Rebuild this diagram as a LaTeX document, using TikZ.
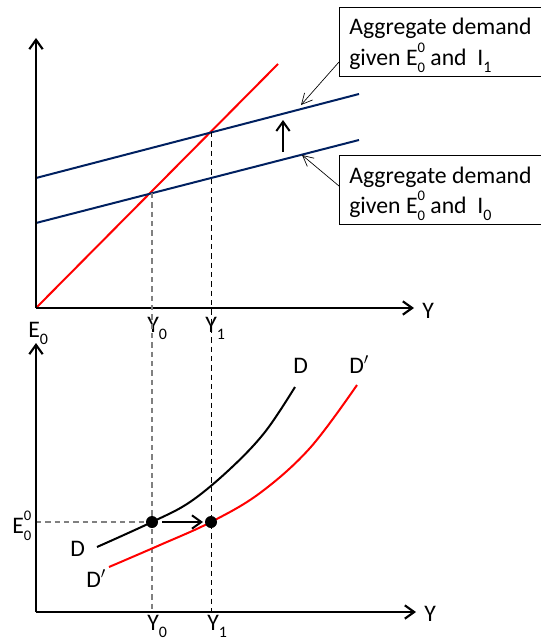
\documentclass[tikz,border=0pt]{standalone}
\usepackage{fontspec}
\setmainfont{Carlito}
\usetikzlibrary{arrows.meta}
\definecolor{navy}{RGB}{0,32,96}
\newcommand{\sbs}[1]{\raisebox{-0.32em}{\fontsize{12}{12}\selectfont #1}}
\newcommand{\Ezz}{E\makebox[0pt][l]{\raisebox{0.52em}{\fontsize{11}{11}\selectfont 0}}\raisebox{-0.3em}{\fontsize{11}{11}\selectfont 0}}
\tikzset{
  axis/.style={line width=1.9pt, -{Straight Barb[length=7pt,width=10pt,line width=1.6pt]}},
  redline/.style={red, line width=1.5pt},
  blueline/.style={navy, line width=1.5pt},
  curveD/.style={black, line width=1.5pt},
  pointer/.style={line width=0.5pt, -{Straight Barb[length=8pt,width=8pt,line width=0.5pt]}},
  bigarrow/.style={line width=1.7pt, -{Straight Barb[length=7pt,width=10pt,line width=1.5pt]}},
  grayd/.style={gray, line width=1pt, dash pattern=on 4pt off 3pt},
  blackd/.style={black, line width=0.7pt, dash pattern=on 4pt off 3pt},
  lbl/.style={inner sep=0pt, anchor=base west},
  callout/.style={draw, line width=0.6pt, anchor=north west, minimum width=157pt, minimum height=51.75pt, inner sep=0pt},
  dot/.style={circle, fill=black, inner sep=0pt, minimum size=9pt}
}
\begin{document}
\begin{tikzpicture}[x=0.75pt, y=-0.75pt, font=\fontsize{17.8}{21}\selectfont]
\useasboundingbox (0,0) rectangle (540,642);
% ---------- upper panel ----------
\coordinate (O1) at (36,308);
\coordinate (T1) at (36,38);
\coordinate (R1) at (414,308);
\coordinate (redEnd) at (278,64);
\coordinate (bA) at (36,178);
\coordinate (bB) at (359,94);
\coordinate (aA) at (36,223);
\coordinate (aB) at (359,140);
\coordinate (i0) at (152,193);
\coordinate (i1) at (211,132);
\draw[redline] (O1) -- (redEnd);
\draw[blueline] (bA) -- (bB);
\draw[blueline] (aA) -- (aB);
\draw[axis] (O1) -- (T1);
\draw[axis] (O1) -- (R1);
\coordinate (upS) at (283,152);
\coordinate (upE) at (283,120);
\draw[bigarrow] (upS) -- (upE);
% callouts
\node[callout] (box1) at (339,7) {};
\node[callout] (box2) at (339,155) {};
\node[lbl] (t1a) at (349,35) {Aggregate demand};
\node[lbl] (t1b) at (349,65) {given \Ezz\ and \ I\sbs{1}};
\node[lbl] (t2a) at (349,183) {Aggregate demand};
\node[lbl] (t2b) at (349,213) {given \Ezz\ and \ I\sbs{0}};
\coordinate (p1s) at (339,62);
\coordinate (p1e) at (301,105);
\coordinate (p2s) at (339,186);
\coordinate (p2e) at (302,155);
\draw[pointer] (p1s) -- (p1e);
\draw[pointer] (p2s) -- (p2e);
% labels upper
\node[lbl] (YY1) at (422,318) {Y};
\node[lbl] (E0) at (28,337) {E\sbs{0}};
\node[lbl] (Y0a) at (147,332) {Y\sbs{0}};
\node[lbl] (Y1a) at (205,332) {Y\sbs{1}};
% ---------- lower panel ----------
\coordinate (O2) at (36,612);
\coordinate (T2) at (36,343);
\coordinate (R2) at (416,612);
\coordinate (b0) at (152,612);
\coordinate (b1) at (211,612);
\coordinate (eL) at (36,522);
\draw[grayd] (i0) -- (b0);
\draw[blackd] (i1) -- (b1);
\draw[grayd] (eL) -- (152,522) coordinate (d0pos);
\draw[curveD] plot[smooth, tension=0.6] coordinates {(97,547) (152,522) (190,502) (230,469) (265,432) (295,387)};
\draw[redline] plot[smooth, tension=0.6] coordinates {(109,567) (160,545) (211,522) (260,493) (310,448) (357,385)};
\node[dot] (dot0) at (152,522) {};
\node[dot] (dot1) at (211,522) {};
\draw[bigarrow, line width=1.4pt] (dot0.east) ++(4,0) coordinate (arS) -- (203,522) coordinate (arE);
\draw[axis] (O2) -- (T2);
\draw[axis] (O2) -- (R2);
\node[lbl] (YY2) at (424,621) {Y};
\node[lbl] (Y0b) at (147,630) {Y\sbs{0}};
\node[lbl] (Y1b) at (207,630) {Y\sbs{1}};
\node[lbl] (E00) at (12,533) {\Ezz};
\node[lbl] (Dl) at (70,556) {D};
\node[lbl] (Dpl) at (86,587) {D$'$};
\node[lbl] (Du) at (293,373) {D};
\node[lbl] (Dpu) at (349,373) {D$'$};
\end{tikzpicture}
\end{document}
